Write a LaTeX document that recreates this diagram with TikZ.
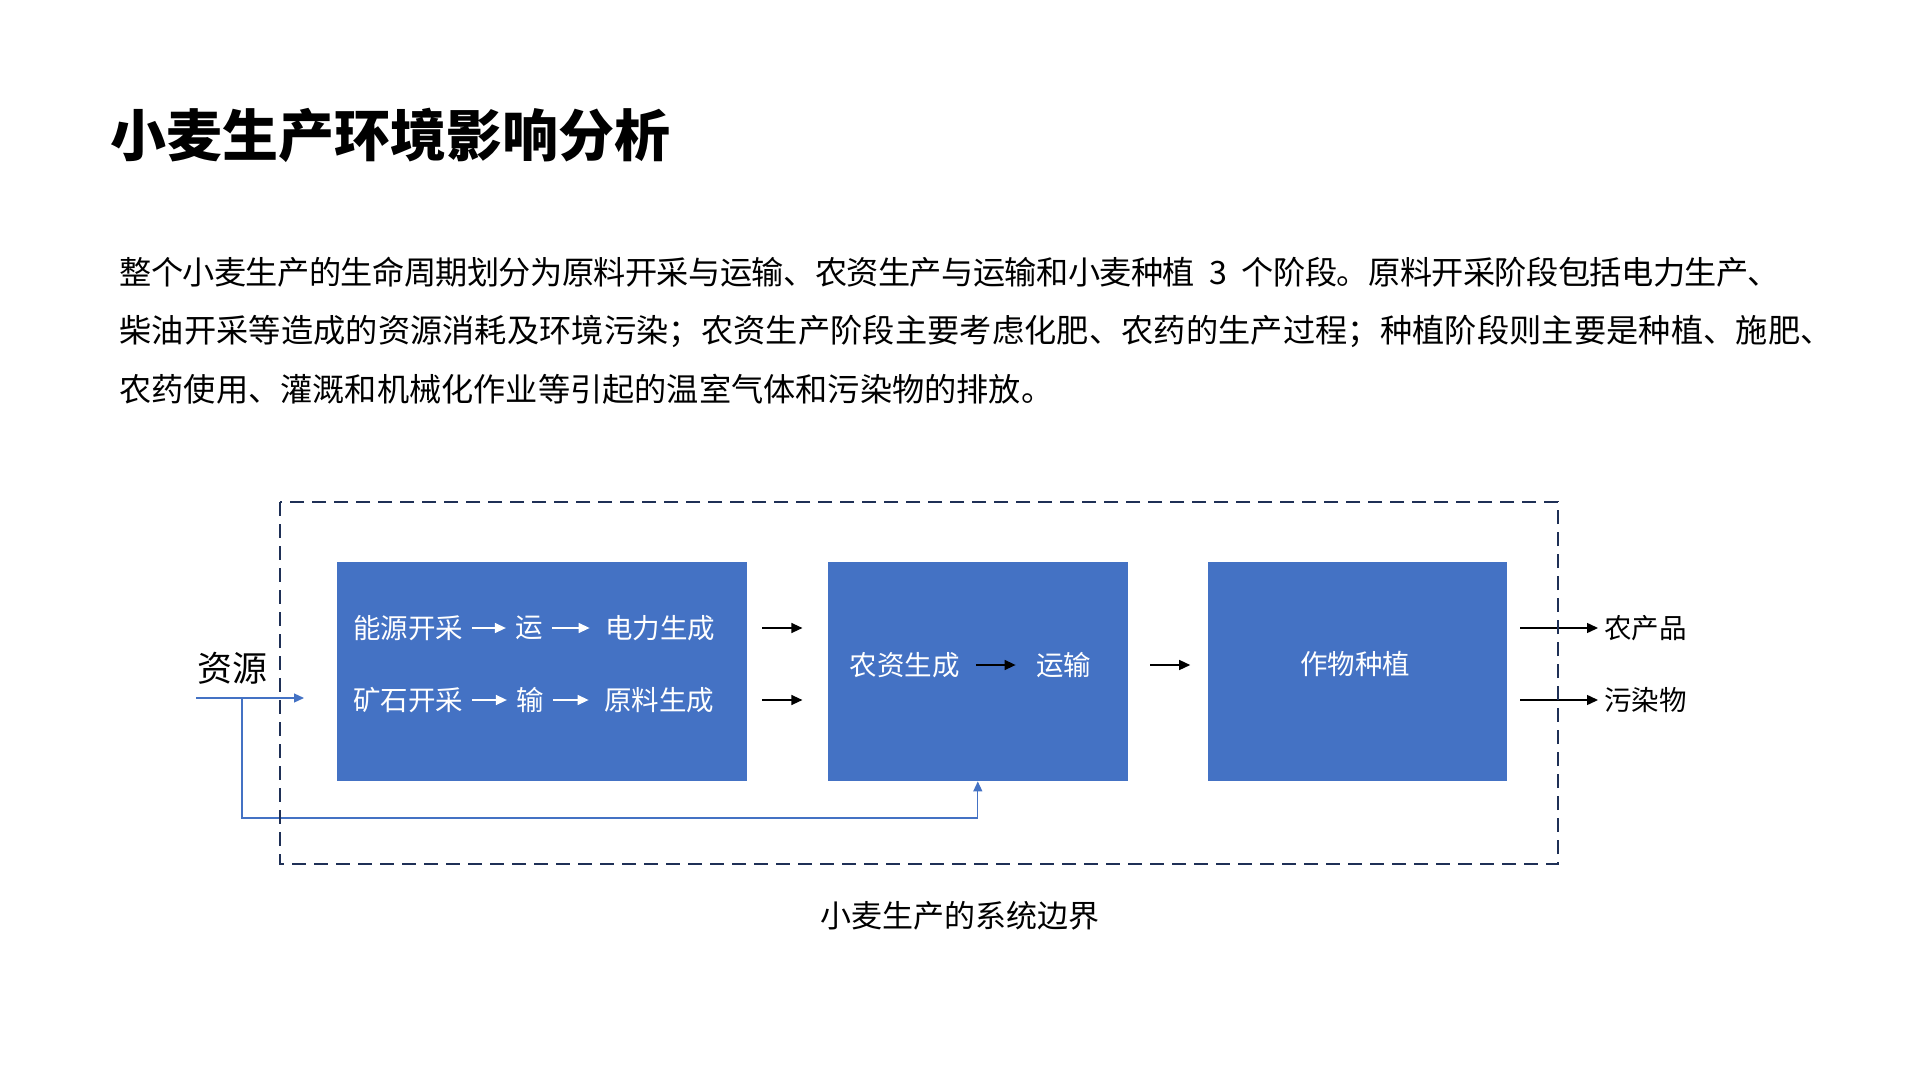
\documentclass[tikz,border=0pt]{standalone}
\usepackage{fontspec}
\setmainfont{Noto Sans CJK SC}
\usetikzlibrary{positioning,arrows.meta}
\definecolor{stageblue}{HTML}{4472C4}
\definecolor{borderblue}{HTML}{1F3056}

\begin{document}
\begin{tikzpicture}[x=0.5pt,y=-0.5pt]
\tikzstyle{stage}=[rectangle, fill=stageblue, minimum height=109.5pt, inner sep=0pt]
\tikzstyle{act}=[text=white, inner sep=4.5pt, font=\fontsize{13.75}{16}\selectfont]
\tikzstyle{term}=[inner sep=3pt, font=\fontsize{13.75}{16}\selectfont]
\tikzstyle{connect}=[-{Triangle[length=5.5pt,width=5pt]}, line width=0.7pt]
\tikzstyle{pass}=[connect, white]
\tikzstyle{feed}=[-{Triangle[length=5pt,width=4.5pt]}, stageblue, line width=0.6pt]
\tikzstyle{border}=[draw=borderblue, line width=1pt, dash pattern=on 7pt off 4pt]

% 1. Canvas
%%%%%%%%%%%
\useasboundingbox (0,0) rectangle (1920,1080);


% 2. Texts
%%%%%%%%%%
\node[anchor=west, inner sep=0pt, font=\fontsize{28}{34}\selectfont\bfseries] (title) at (110,135) {小麦生产环境影响分析};
\node[anchor=west, inner sep=0pt, align=left, font=\fontsize{16.1}{29.25}\selectfont] (intro) at (119,330.5) {
          {\addfontfeature{LetterSpace=-1.8}整个小麦生产的生命周期划分为原料开采与运输、农资生产与运输和小麦种植\hspace{0.45em}3\hspace{0.45em}个阶段。原料开采阶段包括电力生产、}\\
          {\addfontfeature{LetterSpace=0.4}柴油开采等造成的资源消耗及环境污染；农资生产阶段主要考虑化肥、农药的生产过程；种植阶段则主要是种植、施肥、}\\
          农药使用、灌溉和机械化作业等引起的温室气体和污染物的排放。};


% 3. Stages
%%%%%%%%%%%
\node[stage, minimum width=205pt] (supply) at (542,671.5) {};
\node[stage, minimum width=150pt] (input) [right=40pt of supply] {};
\node[stage, minimum width=149.5pt] (farm) [right=39.5pt of input] {};

\node[act] (energy) at (408,628) {能源开采};
\node[act] (haul) at (529,628) {运};
\node[act] (power) at (660,628) {电力生成};
\node[act] (ore) at (408,700) {矿石开采};
\node[act] (ship) at (530,700) {输};
\node[act] (raw) at (659,700) {原料生成};
\node[act] (make) at (904.5,665) {农资生成};
\node[act] (move) at (1063.5,665) {运输};
\node[act] (grow) at (1355,664) {作物种植};

\node[term, anchor=west] (yield) at (1598,628) {农产品};
\node[term, anchor=west] (waste) at (1598,700) {污染物};
\node[inner sep=0pt, font=\fontsize{17.5}{20}\selectfont] (res) at (232,668) {资源};
\node[inner sep=0pt, font=\fontsize{15.5}{18}\selectfont] (bound) at (960,916) {小麦生产的系统边界};

\coordinate (src) at (196,698);
\coordinate (srctip) at (304,698);
\coordinate (fork) at (242,698);
\coordinate (loop) at (242,818);


% 4. Arrows
%%%%%%%%%%%
\path (energy) edge [pass] (haul)
      (haul)   edge [pass, shorten >=3pt] (power)
      (ore)    edge [pass] (ship)
      (ship)   edge [pass, shorten >=3pt] (raw)
      (make)   edge [connect, shorten <=3.5pt, shorten >=5.5pt] (move);
\path (supply.east |- power) edge [connect, shorten <=7.5pt, shorten >=12.5pt] (input.west |- power)
      (supply.east |- raw)   edge [connect, shorten <=7.5pt, shorten >=12.5pt] (input.west |- raw)
      (input.east |- make)   edge [connect, shorten <=11pt, shorten >=8.5pt] (farm.west |- make)
      (farm.east |- yield)   edge [connect, shorten <=6.5pt] (yield)
      (farm.east |- waste)   edge [connect, shorten <=6.5pt] (waste);

\draw[feed] (src) -- (srctip);
\draw[feed] (fork) -- (loop) -| (input.south);


% 5. System boundary
%%%%%%%%%%%%%%%%%%%%
\draw[border] (280,502) rectangle (1558,864);

\end{tikzpicture}
\end{document}
